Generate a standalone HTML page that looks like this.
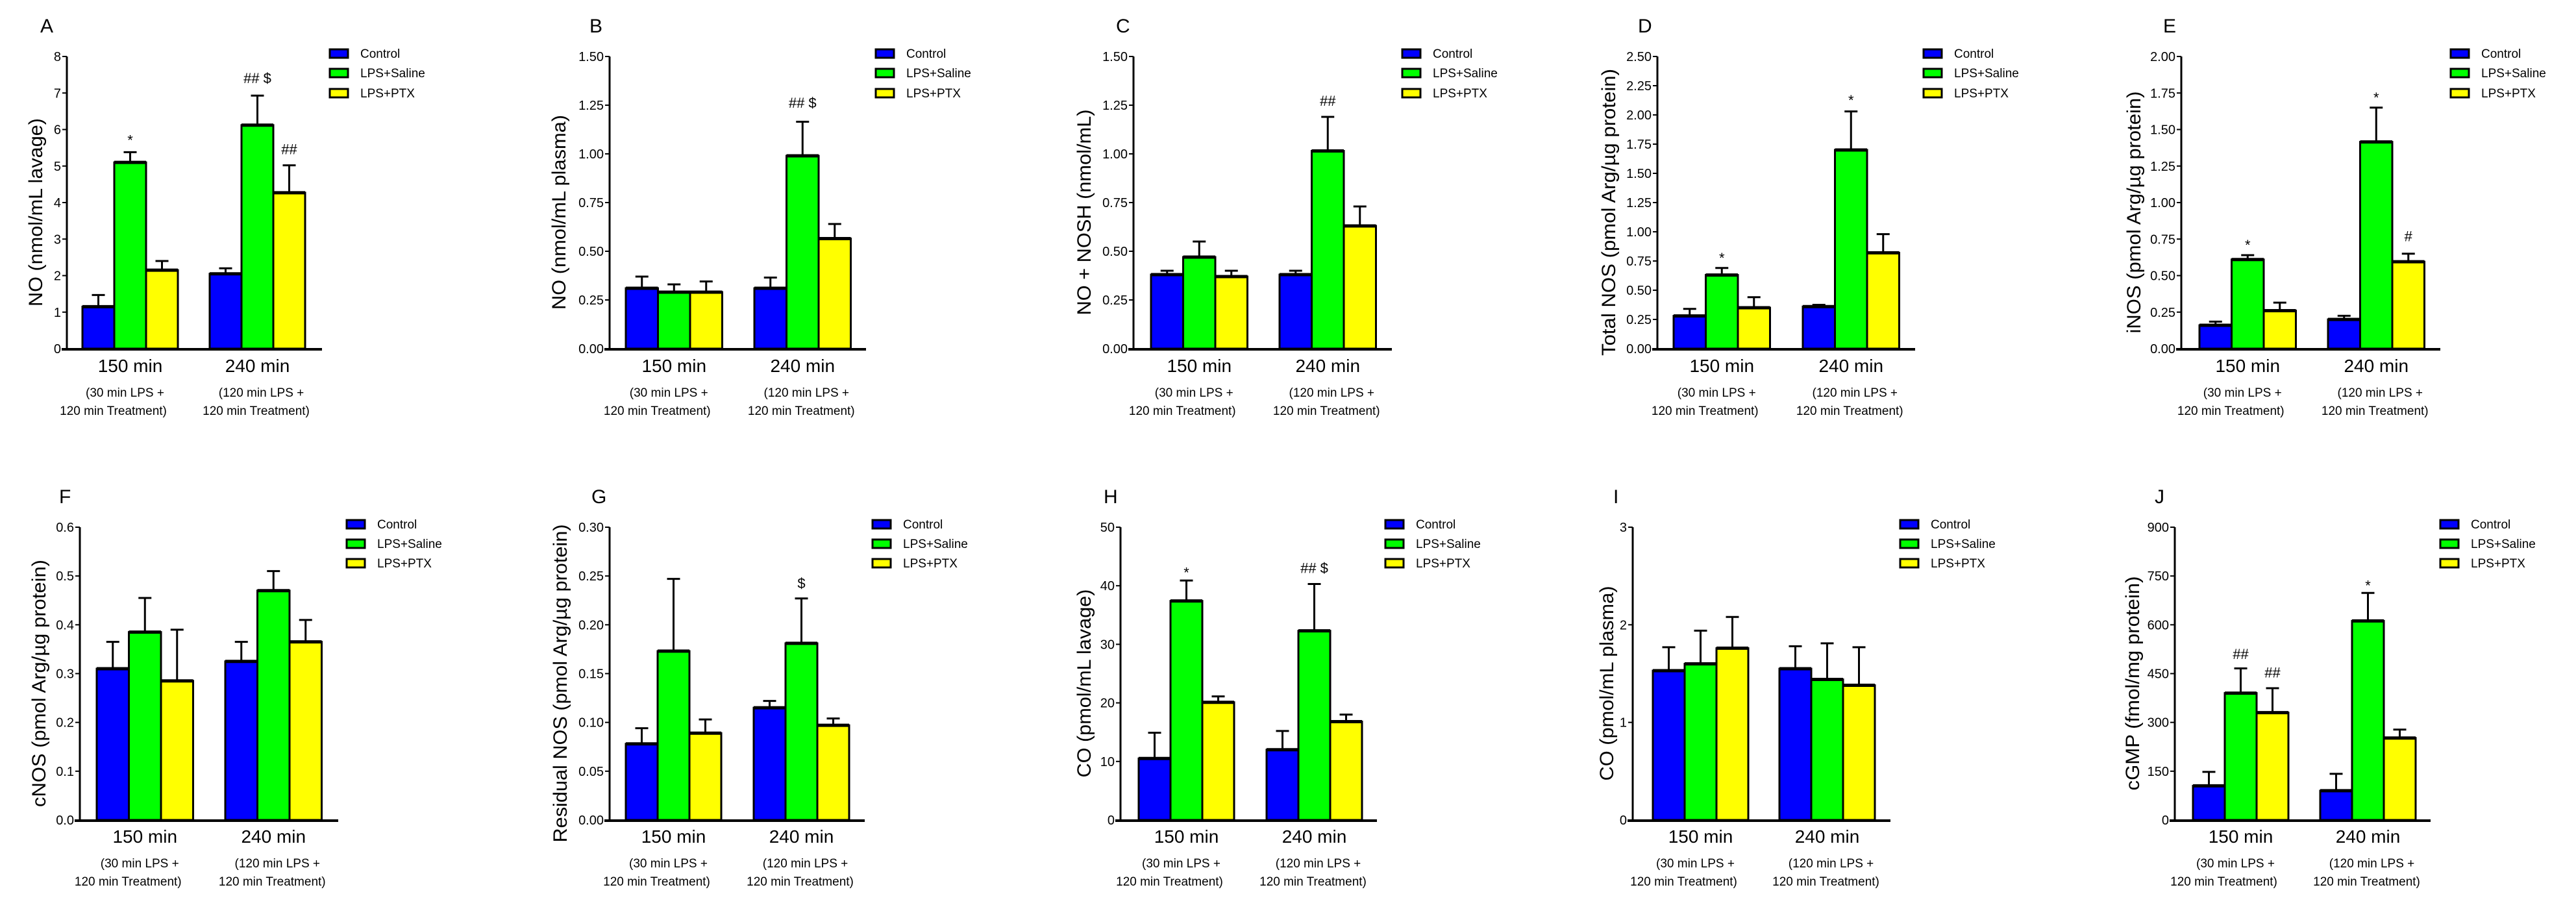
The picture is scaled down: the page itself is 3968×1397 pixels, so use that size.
<!DOCTYPE html>
<html><head><meta charset="utf-8"><style>
html,body{margin:0;padding:0;background:#fff;}
svg{display:block;font-family:"Liberation Sans",Arial,sans-serif;}
</style></head><body>
<svg id="fig" width="3968" height="1397" viewBox="0 0 3968 1397" xmlns="http://www.w3.org/2000/svg"></svg>
<script>
const groups = ["150 min","240 min"];
const subLine1 = ["(30 min LPS +","(120 min LPS +"];
const subLine2 = ["120 min Treatment)","120 min Treatment)"];
const seriesNames = ["Control","LPS+Saline","LPS+PTX"];
const seriesColors = ["#0000ff","#00ff00","#ffff00"];

// values: [series][group]; errTop = mean+SEM
const A_vals = [[1.15,2.05],[5.1,6.12],[2.15,4.27]];
const A_err  = [[1.47,2.2],[5.38,6.93],[2.4,5.02]];
const B_vals = [[0.31,0.31],[0.29,0.99],[0.29,0.565]];
const B_err  = [[0.37,0.365],[0.33,1.165],[0.345,0.64]];
const C_vals = [[0.38,0.38],[0.47,1.015],[0.37,0.63]];
const C_err  = [[0.40,0.40],[0.55,1.19],[0.40,0.73]];
const D_vals = [[0.28,0.36],[0.63,1.70],[0.35,0.82]];
const D_err  = [[0.34,0.375],[0.69,2.03],[0.44,0.98]];
const E_vals = [[0.16,0.20],[0.61,1.415],[0.26,0.595]];
const E_err  = [[0.185,0.225],[0.64,1.65],[0.315,0.65]];
const F_vals = [[0.31,0.325],[0.385,0.47],[0.285,0.365]];
const F_err  = [[0.365,0.365],[0.455,0.51],[0.39,0.41]];
const G_vals = [[0.078,0.115],[0.173,0.181],[0.089,0.097]];
const G_err  = [[0.094,0.122],[0.247,0.227],[0.103,0.104]];
const H_vals = [[10.5,12],[37.4,32.3],[20.1,16.8]];
const H_err  = [[14.9,15.2],[40.9,40.3],[21.1,18]];
const I_vals = [[1.53,1.55],[1.60,1.44],[1.76,1.38]];
const I_err  = [[1.77,1.78],[1.94,1.81],[2.08,1.77]];
const J_vals = [[105,90],[390,612],[330,252]];
const J_err  = [[148,142],[466,698],[405,278]];

// annotations: [series, group, yValue, text]
const A_notes = [[1,0,5.75,"*"],[1,1,7.45,"## $"],[2,1,5.5,"##"]];
const B_notes = [[1,1,1.27,"## $"]];
const C_notes = [[1,1,1.28,"##"]];
const D_notes = [[1,0,0.79,"*"],[1,1,2.14,"*"]];
const E_notes = [[1,0,0.72,"*"],[1,1,1.73,"*"],[2,1,0.78,"#"]];
const F_notes = [];
const G_notes = [[1,1,0.244,"$"]];
const H_notes = [[1,0,42.5,"*"],[1,1,43.3,"## $"]];
const I_notes = [];
const J_notes = [[1,0,515,"##"],[2,0,458,"##"],[1,1,725,"*"]];

// y axis ticks
const A_ticks=[0,1,2,3,4,5,6,7,8], B_ticks=[0,0.25,0.5,0.75,1,1.25,1.5], C_ticks=B_ticks;
const D_ticks=[0,0.25,0.5,0.75,1,1.25,1.5,1.75,2,2.25,2.5], E_ticks=[0,0.25,0.5,0.75,1,1.25,1.5,1.75,2];
const F_ticks=[0,0.1,0.2,0.3,0.4,0.5,0.6], G_ticks=[0,0.05,0.1,0.15,0.2,0.25,0.3];
const H_ticks=[0,10,20,30,40,50], I_ticks=[0,1,2,3], J_ticks=[0,150,300,450,600,750,900];

const panels = [
 {id:"A",vals:A_vals,err:A_err,notes:A_notes,ticks:A_ticks,dec:0,ylab:"NO (nmol/mL lavage)",ylen:290,layout:{ax:103,xe:496,top:87,bot:537,b0:127,g2:323,bw:49,leg:508,lx:62,ylx:54,row:0}},
 {id:"B",vals:B_vals,err:B_err,notes:B_notes,ticks:B_ticks,dec:2,ylab:"NO (nmol/mL plasma)",ylen:300,layout:{ax:939,xe:1334,top:87,bot:537,b0:964,g2:1162,bw:49.5,leg:1349,lx:908,ylx:860,row:0}},
 {id:"C",vals:C_vals,err:C_err,notes:C_notes,ticks:C_ticks,dec:2,ylab:"NO + NOSH (nmol/mL)",ylen:317,layout:{ax:1746,xe:2144,top:87,bot:537,b0:1773,g2:1971,bw:49.5,leg:2160,lx:1719,ylx:1669,row:0}},
 {id:"D",vals:D_vals,err:D_err,notes:D_notes,ticks:D_ticks,dec:2,ylab:"Total NOS (pmol Arg/\u00b5g protein)",ylen:442,layout:{ax:2553,xe:2950,top:87,bot:537,b0:2578,g2:2777,bw:49.5,leg:2963,lx:2523,ylx:2477,row:0}},
 {id:"E",vals:E_vals,err:E_err,notes:E_notes,ticks:E_ticks,dec:2,ylab:"iNOS (pmol Arg/\u00b5g protein)",ylen:373,layout:{ax:3360,xe:3759,top:87,bot:537,b0:3388,g2:3586,bw:49.5,leg:3775,lx:3332,ylx:3286,row:0}},
 {id:"F",vals:F_vals,err:F_err,notes:F_notes,ticks:F_ticks,dec:1,ylab:"cNOS (pmol Arg/\u00b5g protein)",ylen:381,layout:{ax:123,xe:521,top:812,bot:1263,b0:149,g2:347,bw:49.5,leg:534,lx:91,ylx:59,row:1}},
 {id:"G",vals:G_vals,err:G_err,notes:G_notes,ticks:G_ticks,dec:2,ylab:"Residual NOS (pmol Arg/\u00b5g protein)",ylen:490,layout:{ax:939,xe:1332,top:812,bot:1263,b0:964,g2:1161,bw:49,leg:1344,lx:911,ylx:862,row:1}},
 {id:"H",vals:H_vals,err:H_err,notes:H_notes,ticks:H_ticks,dec:0,ylab:"CO (pmol/mL lavage)",ylen:290,layout:{ax:1726,xe:2121,top:812,bot:1263,b0:1754,g2:1951,bw:49,leg:2134,lx:1700,ylx:1669,row:1}},
 {id:"I",vals:I_vals,err:I_err,notes:I_notes,ticks:I_ticks,dec:0,ylab:"CO (pmol/mL plasma)",ylen:300,layout:{ax:2515,xe:2912,top:812,bot:1263,b0:2546,g2:2741,bw:49,leg:2927,lx:2485,ylx:2474,row:1}},
 {id:"J",vals:J_vals,err:J_err,notes:J_notes,ticks:J_ticks,dec:0,ylab:"cGMP (fmol/mg protein)",ylen:330,layout:{ax:3350,xe:3744,top:812,bot:1263,b0:3378,g2:3574,bw:49,leg:3759,lx:3319,ylx:3284,row:1}}
];

const NS="http://www.w3.org/2000/svg";
const svg=document.getElementById("fig");
function mk(tag,attrs,parent,text){
  const e=document.createElementNS(NS,tag);
  for(const k in attrs) e.setAttribute(k,attrs[k]);
  if(text!==undefined) e.textContent=text;
  (parent||svg).appendChild(e);
  return e;
}

panels.forEach(p=>{
  const L=p.layout;
  const g=mk("g",{});
  
  
  const ymax=p.ticks[p.ticks.length-1];
  const yScale=v=>L.bot-(v/ymax)*(L.bot-L.top);
  const rowOff = L.row===0?0:725;
  // panel letter
  const lt=mk("text",{x:L.lx,y:50+rowOff,"font-size":30,fill:"#000"},g,p.id);
  
  
  // y axis
  const ya=mk("line",{x1:L.ax,y1:L.top,x2:L.ax,y2:L.bot+1,stroke:"#000","stroke-width":3},g);
  
  
  p.ticks.forEach(t=>{
    const y=yScale(t);
    mk("line",{x1:L.ax-7,y1:y,x2:L.ax,y2:y,stroke:"#000","stroke-width":2},g);
    const tl=mk("text",{x:L.ax-9,y:y+7,"font-size":20,"text-anchor":"end",fill:"#000"},g,t.toFixed(p.dec));
    
    
  });
  // y label
  const cy=(L.top+L.bot)/2+15;
  const yl=mk("text",{x:0,y:0,"font-size":30,"text-anchor":"middle",fill:"#000",textLength:p.ylen,lengthAdjust:"spacingAndGlyphs",transform:`translate(${L.ylx+11},${cy}) rotate(-90)`},g,p.ylab);
  
  
  // bars
  const gStarts=[L.b0,L.g2];
  p.vals.forEach((ser,si)=>{
    ser.forEach((v,gi)=>{
      const x=gStarts[gi]+si*L.bw;
      const y=yScale(v);
      const e=yScale(p.err[si][gi]);
      const cx=x+L.bw/2;
      const el=mk("line",{x1:cx,y1:e,x2:cx,y2:y,stroke:"#000","stroke-width":3},g);
      
      
      mk("line",{x1:cx-10,y1:e,x2:cx+10,y2:e,stroke:"#000","stroke-width":3},g);
      const r=mk("rect",{x:x,y:y,width:L.bw,height:L.bot-y,fill:seriesColors[si],stroke:"#000","stroke-width":3},g);
      
      
      mk("line",{x1:x,y1:y,x2:x+L.bw,y2:y,stroke:"#000","stroke-width":5},g);
    });
  });
  // x axis
  const xa=mk("line",{x1:L.ax-8,y1:L.bot+1,x2:L.xe,y2:L.bot+1,stroke:"#000","stroke-width":4},g);
  
  
  // annotations
  p.notes.forEach(n=>{
    const x=gStarts[n[1]]+n[0]*L.bw+L.bw/2;
    const a=mk("text",{x:x,y:yScale(n[2])+10,"font-size":22,"text-anchor":"middle",fill:"#000"},g,n[3]);
    
    
  });
  // category labels
  const r0 = L.row===0?0:725;
  groups.forEach((c,gi)=>{
    const cx=gStarts[gi]+1.5*L.bw;
    const t=mk("text",{x:cx,y:573+r0,"font-size":28,"text-anchor":"middle",fill:"#000"},g,c);
    
    
    const sx=cx+(gi===0?-18:6);
    const s1=mk("text",{x:sx+(gi===0?10:0),y:611+r0,"font-size":19,"text-anchor":"middle",fill:"#000"},g,subLine1[gi]);
    
    
    const s2=mk("text",{x:sx-8,y:639+r0,"font-size":19,"text-anchor":"middle",fill:"#000"},g,subLine2[gi]);
    
    
  });
  // legend
  const legY = L.row===0?[82,112,143]:[807,837,867];
  seriesNames.forEach((nm,si)=>{
    const sw=mk("rect",{x:L.leg,y:legY[si]-6,width:28,height:13,fill:seriesColors[si],stroke:"#000","stroke-width":3},g);
    
    
    const lt2=mk("text",{x:L.leg+47,y:legY[si]+7,"font-size":19,fill:"#000"},g,nm);
    
    
  });
});
</script>
</body></html>
